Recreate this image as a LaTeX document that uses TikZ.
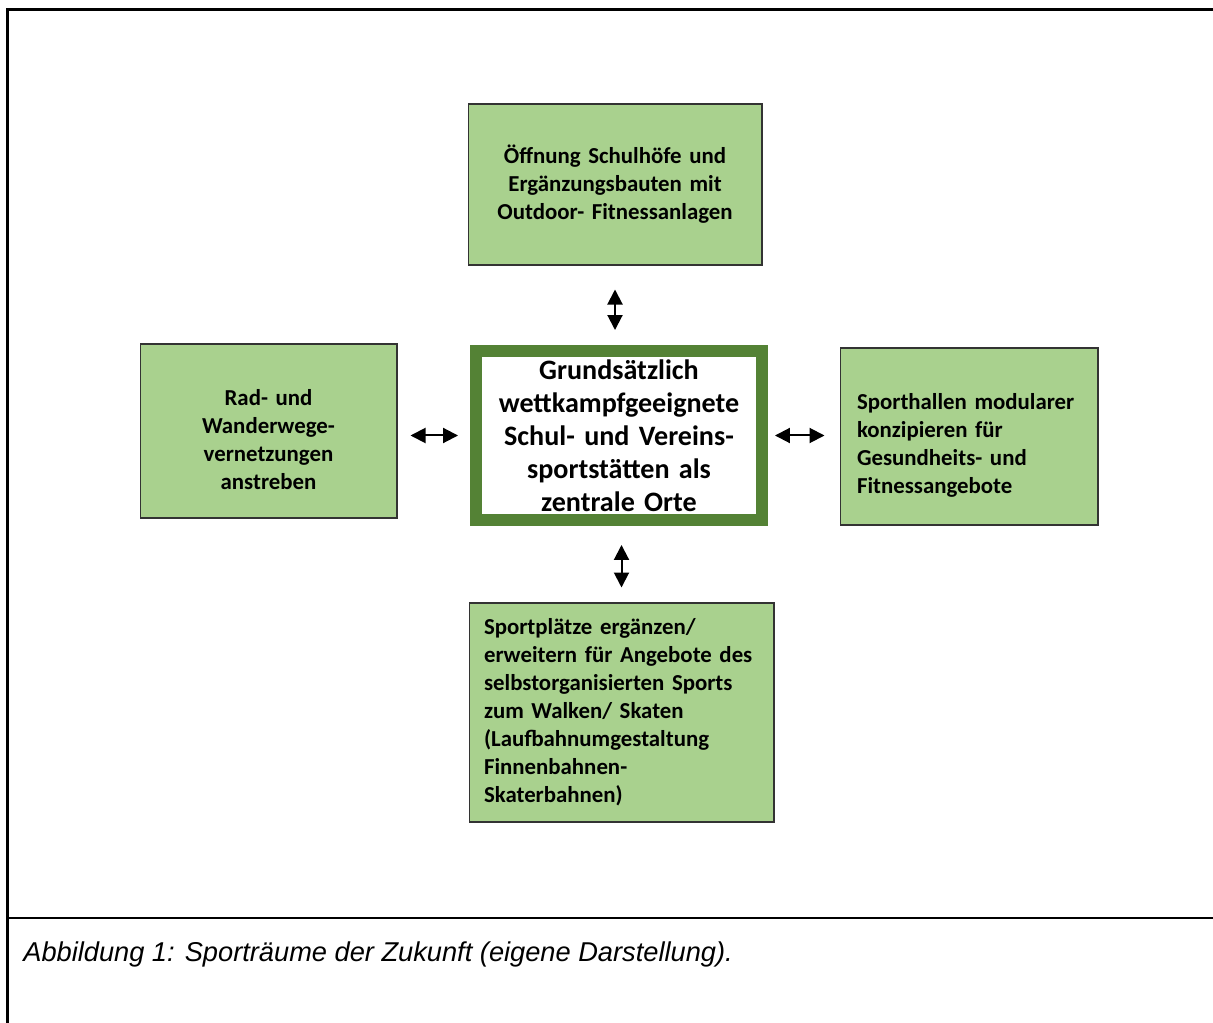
\documentclass[tikz,border=0pt]{standalone}
\usepackage{fontspec}
\setmainfont{Carlito}
\newfontfamily\arialfont{Liberation Sans}
\usetikzlibrary{arrows.meta}

\definecolor{hellgruen}{RGB}{169,209,142}
\definecolor{dunkelgruen}{RGB}{84,130,53}

\begin{document}
\begin{tikzpicture}[x=0.02cm,y=-0.02cm,
  feld/.style={rectangle,draw=black!80,line width=0.6pt,fill=hellgruen,inner sep=0pt,
    font=\bfseries\fontsize{13}{15.9}\selectfont},
  mitte/.style={rectangle,draw=dunkelgruen,line width=0.24cm,fill=white,inner sep=0pt,
    align=center,font=\bfseries\fontsize{16}{18.8}\selectfont},
  pfeil/.style={{Triangle[length=0.3cm,width=0.3cm]}-{Triangle[length=0.3cm,width=0.3cm]},line width=0.04cm}]
\useasboundingbox (0,0) rectangle (1213,1023);
\draw[line width=0.054cm] (7.3,1023) -- (7.3,9.5) -- (1213,9.5);
\draw[line width=0.054cm] (7.3,918) -- (1213,918);

\path (619,435.5) node[mitte,minimum width=5.72cm,minimum height=3.38cm,text width=5.6cm] (Z)
  {Grundsätzlich\\wettkampfgeeignete\\Schul- und Vereins-\\sportstätten als\\zentrale Orte};

\path (615,184.5) node[feld,minimum width=5.88cm,minimum height=3.22cm,text width=5.7cm,align=center] (O)
  {Öffnung Schulhöfe und\\Ergänzungsbauten mit\\Outdoor- Fitnessanlagen};
\draw[pfeil,shorten <=0.48cm,shorten >=0.3cm] (O.south) -- (O.south |- Z.north);

\path (268.5,431) node[feld,minimum width=5.14cm,minimum height=3.48cm,text width=5cm,align=center] (L)
  {\rule{0pt}{19pt}Rad- und\\Wanderwege-\\vernetzungen\\anstreben};
\draw[pfeil,shorten <=0.26cm,shorten >=0.24cm] (L.east |- Z.west) -- (Z.west);

\path (969,436.5) node[feld,minimum width=5.16cm,minimum height=3.54cm,text width=4.48cm,align=left] (R)
  {\rule{0pt}{19pt}Sporthallen modularer\\konzipieren für\\Gesundheits- und\\Fitnessangebote};
\draw[pfeil,shorten <=0.14cm,shorten >=0.3cm] (Z.east) -- (R.west |- Z.east);

\path (621.5,712.5) node[feld,minimum width=6.1cm,minimum height=4.38cm,text width=5.5cm,align=left] (U)
  {Sportplätze ergänzen/\\erweitern für Angebote des\\selbstorganisierten Sports\\zum Walken/ Skaten\\(Laufbahnumgestaltung\\Finnenbahnen-\\Skaterbahnen)};
\draw[pfeil,shorten <=0.38cm,shorten >=0.3cm] (Z.south -| U.north) -- (U.north);

\path (23,961) node[anchor=base west,inner sep=0pt,font=\arialfont\itshape\fontsize{15.5}{18}\selectfont] (caption)
  {Abbildung 1: Sporträume der Zukunft (eigene Darstellung).};
\end{tikzpicture}
\end{document}
